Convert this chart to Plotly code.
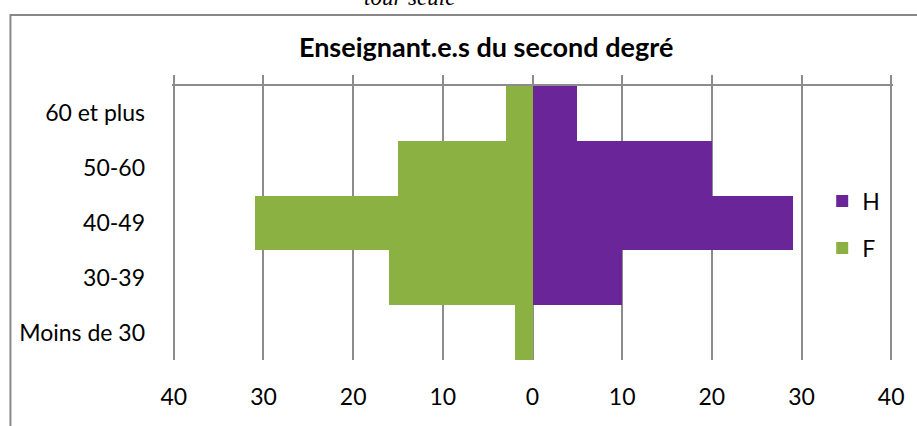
import plotly.graph_objects as go

# Age groups (bottom to top) and headcounts per sex
categories = ["Moins de 30", "30-39", "40-49", "50-60", "60 et plus"]
hommes = [0, 10, 29, 20, 5]
femmes = [2, 16, 31, 15, 3]

tick_vals = [-40, -30, -20, -10, 0, 10, 20, 30, 40]
tick_text = ["40", "30", "20", "10", "0", "10", "20", "30", "40"]

PURPLE = "#6A2698"
GREEN = "#8BB143"
GRID = "#8C8C8C"
FONT = "Lato"
FS = 23

fig = go.Figure()
fig.add_trace(go.Bar(
    y=categories, x=hommes, orientation="h", name="H",
    marker=dict(color=PURPLE, line=dict(width=0)),
    legend="legend",
    hovertemplate="%{y}: %{x}<extra>H</extra>",
))
fig.add_trace(go.Bar(
    y=categories, x=[-v for v in femmes], orientation="h", name="F",
    marker=dict(color=GREEN, line=dict(width=0)),
    customdata=femmes, legend="legend2",
    hovertemplate="%{y}: %{customdata}<extra>F</extra>",
))
# empty trace so the top axis (line + outside ticks) gets drawn
fig.add_trace(go.Scatter(
    x=[None], y=[None], xaxis="x2", mode="markers",
    showlegend=False, hoverinfo="skip",
))

W, H = 917, 426
PAD = 0.2  # small range padding so the outer gridlines at ±40 stay visible
L, R, T, B = 172, 22, 86, 66
plot_h = H - T - B
plot_w = W - L - R

fig.update_layout(
    width=W, height=H,
    margin=dict(l=L, r=R, t=T, b=B),
    paper_bgcolor="white", plot_bgcolor="white",
    barmode="relative", bargap=0,
    font=dict(family=FONT, size=FS, color="#000000"),
    title=dict(
        text="<b>Enseignant.e.s du second degré</b>",
        font=dict(family=FONT, size=27, color="#000000"),
        xref="paper", x=(487 - L) / plot_w, xanchor="center",
        yref="container", y=1 - 48 / H, yanchor="middle",
    ),
    xaxis=dict(
        range=[-40 - PAD, 40 + PAD], tickvals=tick_vals, ticktext=tick_text,
        showgrid=True, gridcolor=GRID, gridwidth=1.5,
        zeroline=True, zerolinecolor=GRID, zerolinewidth=1.5,
        showline=False, ticks="", ticklabelstandoff=21,
        tickfont=dict(family=FONT, size=FS),
    ),
    xaxis2=dict(
        range=[-40 - PAD, 40 + PAD], tickvals=tick_vals, overlaying="x",
        side="top", anchor="y", showline=True, linecolor=GRID, linewidth=1.5,
        ticks="outside", ticklen=9, tickcolor=GRID, tickwidth=1.5,
        showticklabels=False, showgrid=False, zeroline=False,
    ),
    yaxis=dict(
        categoryorder="array", categoryarray=categories,
        showgrid=False, showline=False, ticks="",
        ticklabelstandoff=26,
        tickfont=dict(family=FONT, size=FS),
    ),
    legend=dict(
        x=(824 - L) / plot_w, xanchor="left",
        y=1 - (201 - T) / plot_h, yanchor="middle",
        bgcolor="rgba(0,0,0,0)", font=dict(family=FONT, size=FS),
        itemwidth=30,
    ),
    legend2=dict(
        x=(824 - L) / plot_w, xanchor="left",
        y=1 - (248 - T) / plot_h, yanchor="middle",
        bgcolor="rgba(0,0,0,0)", font=dict(family=FONT, size=FS),
        itemwidth=30,
    ),
    showlegend=True,
)

# Outer chart frame
fig.add_shape(
    type="rect", xref="paper", yref="paper", layer="below",
    x0=(10 - L) / plot_w, x1=1 + 40 / plot_w,
    y0=-(B + 30) / plot_h, y1=1 + (T - 15) / plot_h,
    line=dict(color="#878787", width=2), fillcolor="rgba(0,0,0,0)",
)

# Caption line of the surrounding document, partly cut off at the top
fig.add_annotation(
    text="<i>tour seule</i>", showarrow=False,
    xref="paper", x=(410 - L) / plot_w, xanchor="center",
    yref="paper", y=1 + (T - 12) / plot_h, yanchor="bottom",
    font=dict(family="Liberation Serif", size=23, color="#000000"),
)

fig.write_html("out.html")
